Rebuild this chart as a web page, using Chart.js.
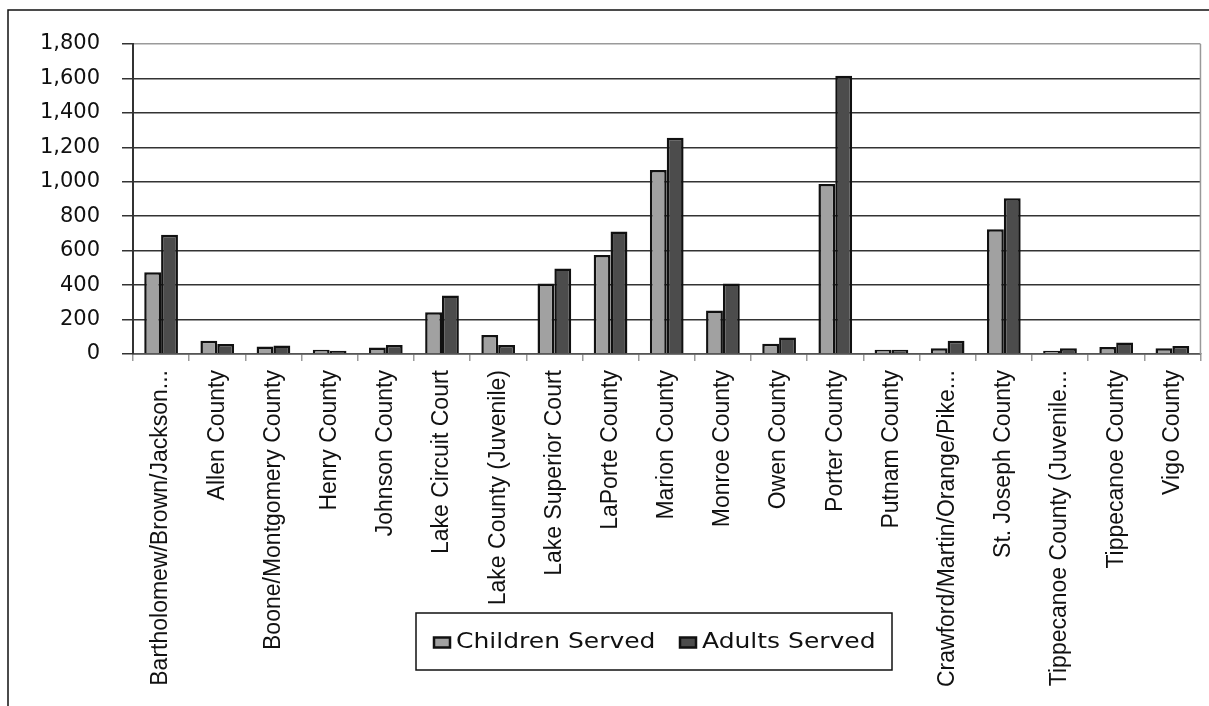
<!DOCTYPE html>
<html>
<head>
<meta charset="utf-8">
<title>Children and Adults Served</title>
<script src="https://cdn.jsdelivr.net/npm/chart.js@4/dist/chart.umd.min.js"></script>
<style>
  html, body { margin: 0; padding: 0; background: #fff; }
  #chart-box { width: 1209px; height: 706px; position: relative; }
</style>
</head>
<body>
<div id="chart-box"><canvas id="my-chart"></canvas></div>
<script>
'use strict';

// ************ Chart Data *******************

let countyNames = [
  'Bartholomew/Brown/Jackson...',
  'Allen County',
  'Boone/Montgomery County',
  'Henry County',
  'Johnson County',
  'Lake Circuit Court',
  'Lake County (Juvenile)',
  'Lake Superior Court',
  'LaPorte County',
  'Marion County',
  'Monroe County',
  'Owen County',
  'Porter County',
  'Putnam County',
  'Crawford/Martin/Orange/Pike...',
  'St. Joseph County',
  'Tippecanoe County (Juvenile...',
  'Tippecanoe County',
  'Vigo County'
];

let childrenServed = [475, 77, 44, 25, 38, 242, 110, 410, 575, 1068, 253, 60, 987, 25, 33, 724, 19, 41, 33];
let adultsServed = [693, 58, 50, 19, 52, 339, 52, 497, 712, 1256, 410, 96, 1616, 25, 77, 904, 33, 67, 46];

let yTickMax = 1800;
let yTickStep = 200;

let seriesNames = ['Children Served', 'Adults Served'];
let seriesColors = ['#a1a1a1', '#4c4c4c'];

// ************ Helpers **********************

let axisFont = 'Arial, "Liberation Sans", sans-serif';
let numberFont = '"DejaVu Sans", Verdana, sans-serif';

// outer frame, right plot edge and the boxed legend
let framePlugin = {
  id: 'frame',
  beforeDraw(chart) {
    let ctx = chart.ctx;
    ctx.save();
    ctx.fillStyle = '#fff';
    ctx.fillRect(0, 0, chart.width, chart.height);
    ctx.strokeStyle = '#111';
    ctx.lineWidth = 1.5;
    ctx.beginPath();
    ctx.moveTo(8, chart.height);
    ctx.lineTo(8, 10);
    ctx.lineTo(chart.width, 10);
    ctx.stroke();
    ctx.restore();
  },
  afterDraw(chart) {
    let ctx = chart.ctx;
    let area = chart.chartArea;
    ctx.save();

    // right edge of plot area
    ctx.strokeStyle = '#999';
    ctx.lineWidth = 1.5;
    ctx.beginPath();
    ctx.moveTo(area.right, area.top);
    ctx.lineTo(area.right, area.bottom);
    ctx.stroke();

    // legend
    let boxLeft = 416;
    let boxTop = 613;
    let boxWidth = 476;
    let boxHeight = 57;
    ctx.strokeStyle = '#111';
    ctx.lineWidth = 1.5;
    ctx.strokeRect(boxLeft, boxTop, boxWidth, boxHeight);

    let midY = boxTop + boxHeight / 2 + 1;
    let itemX = [434, 680];
    ctx.font = '21px ' + numberFont;
    ctx.textBaseline = 'middle';
    for (let i = 0; i < chart.data.datasets.length; i++) {
      let ds = chart.data.datasets[i];
      ctx.fillStyle = ds.backgroundColor;
      ctx.fillRect(itemX[i], midY - 5, 16, 10);
      ctx.lineWidth = 2.5;
      ctx.strokeStyle = '#111';
      ctx.strokeRect(itemX[i], midY - 5, 16, 10);

      ctx.save();
      ctx.translate(itemX[i] + 22, midY);
      ctx.scale(1.19, 1);
      ctx.fillStyle = '#111';
      ctx.fillText(ds.label, 0, 0);
      ctx.restore();
    }
    ctx.restore();
  }
};

// ************ Chart ************************

let canvasElem = document.getElementById('my-chart');

let myObj = {
  type: 'bar',
  data: {
    labels: countyNames,
    datasets: [
      {
        label: seriesNames[0],
        data: childrenServed,
        backgroundColor: seriesColors[0],
        borderColor: '#111',
        borderWidth: 2.5
      },
      {
        label: seriesNames[1],
        data: adultsServed,
        backgroundColor: seriesColors[1],
        borderColor: '#111',
        borderWidth: 2.5
      }
    ]
  },
  options: {
    responsive: true,
    maintainAspectRatio: false,
    animation: false,
    layout: {
      padding: { top: 44, right: 1, bottom: 0, left: 0 }
    },
    datasets: {
      bar: {
        categoryPercentage: 0.6,
        barPercentage: 1.0
      }
    },
    plugins: {
      legend: { display: false },
      tooltip: { enabled: false }
    },
    scales: {
      x: {
        grid: {
          display: true,
          drawOnChartArea: false,
          drawTicks: true,
          tickLength: 7,
          color: '#9a9a9a',
          lineWidth: 1.5
        },
        border: { color: '#555', width: 1.5 },
        ticks: {
          autoSkip: false,
          minRotation: 90,
          maxRotation: 90,
          padding: 9,
          color: '#111',
          font: { family: axisFont, size: 23 }
        },
        afterFit(scale) {
          scale.height = 352;
        }
      },
      y: {
        min: 0,
        max: yTickMax,
        grid: {
          color: function (c) {
            return c.tick && c.tick.value === yTickMax ? '#9a9a9a' : '#333';
          },
          tickColor: '#333',
          lineWidth: 1.5,
          tickLength: 11
        },
        border: { color: '#333', width: 2 },
        ticks: {
          stepSize: yTickStep,
          padding: 22,
          color: '#111',
          font: { family: numberFont, size: 21 },
          callback: function (value) {
            return value.toLocaleString('en-US');
          }
        },
        afterFit(scale) {
          scale.width = 133;
        }
      }
    }
  },
  plugins: [framePlugin]
};

new Chart(canvasElem, myObj);
</script>
</body>
</html>
